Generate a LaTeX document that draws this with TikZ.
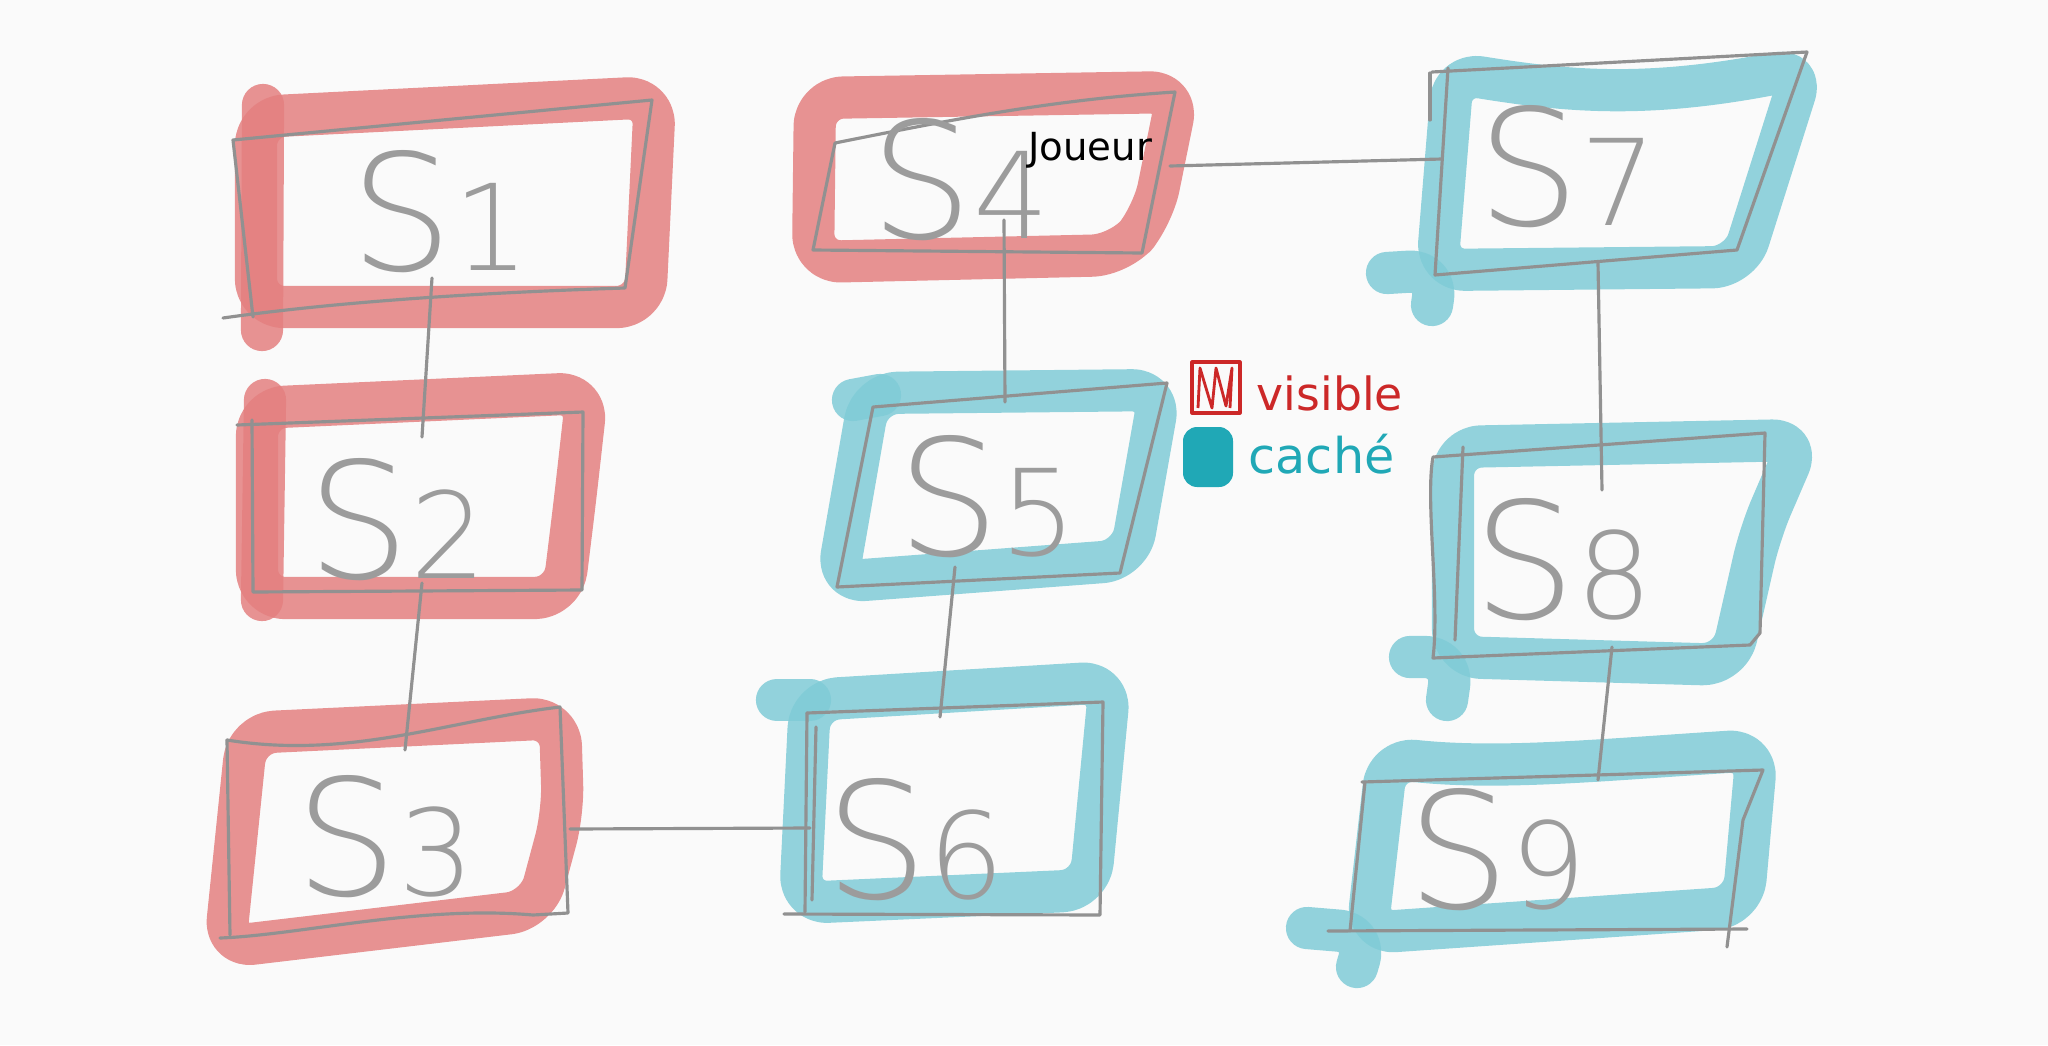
\documentclass[tikz,border=0pt]{standalone}
\usepackage{fontspec}
\setsansfont{DejaVu Sans}
\newfontfamily\handfont{DejaVu Sans ExtraLight}
\usepackage{xcolor}
\definecolor{bgpaper}{RGB}{250,250,250}
\definecolor{hlred}{RGB}{228,128,128}
\definecolor{hlteal}{RGB}{128,204,215}
\definecolor{inkred}{RGB}{204,40,40}
\definecolor{inkteal}{RGB}{32,168,182}
\definecolor{pencil}{RGB}{145,145,145}
\usetikzlibrary{positioning}

\newcommand{\stname}[1]{{\fontsize{46}{46}\selectfont S}{\fontsize{34}{34}\selectfont #1}}

\begin{document}
\begin{tikzpicture}[x=0.01cm, y=-0.01cm,
  redmark/.style={draw=hlred, line width=12pt, line cap=round, line join=round, rounded corners=8pt, opacity=0.85},
  tealmark/.style={draw=hlteal, line width=12pt, line cap=round, line join=round, rounded corners=8pt, opacity=0.85},
  sketch/.style={draw=pencil, line width=0.9pt, line join=round, line cap=round},
  link/.style={sketch},
  stlbl/.style={text=pencil!90, font=\handfont, inner sep=0pt}]

  \fill[bgpaper] (0,0) rectangle (2048,1045);
  \useasboundingbox (0,0) rectangle (2048,1045);

  % S1 -- visible
  \draw[redmark] (256,117) -- (655,97) -- (645,307) -- (256,307) -- cycle;
  \draw[redmark] (263,105) -- (262,330);
  \draw[sketch] (223,318) .. controls (350,300) and (500,292) .. (625,288) -- (652,100) -- (233,140) -- (253,317);
  \node[stlbl] (s1) at (440,212) {\stname{1}};

  % S2 -- visible
  \draw[redmark] (257,408) -- (587,393) -- (575,500) -- (563,598) -- (257,598) -- cycle;
  \draw[redmark] (265,400) -- (262,600);
  \draw[sketch] (237,425) -- (583,412) -- (582,590) -- (253,592) -- (252,420);
  \node[stlbl] (s2) at (397,520) {\stname{2}};

  % S3 -- visible
  \draw[redmark] (247,733) -- (560,718) -- (563,813) -- (537,910) -- (225,947) -- cycle;
  \draw[sketch] (227,740) .. controls (350,760) and (450,720) .. (560,707) -- (568,913) -- (533,915)
       .. controls (420,905) and (300,935) .. (220,938);
  \draw[sketch] (227,740) -- (230,935);
  \node[stlbl] (s3) at (385,837) {\stname{3}};

  % S4 -- visible, player
  \draw[redmark] (815,98) -- (1178,92) -- (1153,215) -- (1120,255) -- (813,262) -- cycle;
  \draw[sketch] (835,143) .. controls (950,120) and (1050,100) .. (1175,92) -- (1142,253) -- (813,250) -- (835,143);
  \node[stlbl] (s4) at (960,180) {\stname{4}};
  \node[font=\sffamily\fontsize{11}{11}\selectfont, text=black, inner sep=0pt] (player) at (1090,150) {Joueur};

  % S5 -- hidden
  \draw[tealmark] (870,393) -- (1160,390) -- (1130,560) -- (837,582) -- cycle;
  \draw[tealmark] (853,400) -- (880,395);
  \draw[sketch] (873,407) -- (1167,383) -- (1120,573) -- (837,587) -- cycle;
  \node[stlbl] (s5) at (987,497) {\stname{5}};

  % S6 -- hidden
  \draw[tealmark] (810,700) -- (1110,682) -- (1090,890) -- (800,903) -- cycle;
  \draw[tealmark] (777,700) -- (810,700);
  \draw[sketch] (807,713) -- (1103,702) -- (1100,915) -- (784,914);
  \draw[sketch] (807,713) -- (805,912);
  \draw[sketch] (816,727) -- (812,900);
  \node[stlbl] (s6) at (915,840) {\stname{6}};

  % S7 -- hidden
  \draw[tealmark] (1453,73) .. controls (1560,90) and (1640,100) .. (1803,68) -- (1740,267) -- (1437,270) -- cycle;
  \draw[tealmark] (1387,273) -- (1437,270) -- (1432,305);
  \draw[sketch] (1432,72) -- (1807,52) -- (1737,250) -- (1435,275) -- (1448,68);
  \draw[sketch] (1430,73) -- (1430,120);
  \node[stlbl] (s7) at (1567,167) {\stname{7}};

  % S8 -- hidden
  \draw[tealmark] (1453,447) -- (1800,440) -- (1760,533) -- (1730,665) -- (1453,657) -- cycle;
  \draw[tealmark] (1410,657) -- (1453,657) -- (1447,700);
  \draw[sketch] (1433,457) -- (1765,433) -- (1760,633) -- (1750,645) -- (1433,658)
       .. controls (1440,600) and (1425,500) .. (1433,457);
  \draw[sketch] (1463,447) -- (1455,640);
  \node[stlbl] (s8) at (1563,560) {\stname{8}};

  % S9 -- hidden
  \draw[tealmark] (1387,758) .. controls (1500,770) and (1600,760) .. (1757,750) -- (1743,907) -- (1367,933) -- cycle;
  \draw[tealmark] (1307,928) -- (1367,933) -- (1357,967);
  \draw[sketch] (1362,782) -- (1763,770) -- (1743,820) -- (1727,947);
  \draw[sketch] (1328,931) -- (1747,929);
  \draw[sketch] (1365,782) -- (1350,931);
  \node[stlbl] (s9) at (1497,850) {\stname{9}};

  % links between rooms
  \coordinate (s1bot) at (432,278);  \coordinate (s2top) at (422,437);
  \coordinate (s2bot) at (422,583);  \coordinate (s3top) at (405,750);
  \coordinate (s3east) at (570,829); \coordinate (s6west) at (810,828);
  \coordinate (s4bot) at (1004,220); \coordinate (s5top) at (1005,402);
  \coordinate (s5bot) at (955,567);  \coordinate (s6top) at (940,717);
  \coordinate (s4east) at (1170,166); \coordinate (s7west) at (1442,159);
  \coordinate (s7bot) at (1598,263); \coordinate (s8top) at (1602,490);
  \coordinate (s8bot) at (1612,647); \coordinate (s9top) at (1598,780);
  \draw[link] (s1bot) -- (s2top);
  \draw[link] (s2bot) -- (s3top);
  \draw[link] (s3east) -- (s6west);
  \draw[link] (s4bot) -- (s5top);
  \draw[link] (s5bot) -- (s6top);
  \draw[link] (s4east) -- (s7west);
  \draw[link] (s7bot) -- (s8top);
  \draw[link] (s8bot) -- (s9top);

  % legend
  \draw[inkred, line width=0.9pt, line join=round] (1192,362) rectangle (1240,413);
  \draw[inkred, line width=0.8pt, line join=round] (1198,408) -- (1200,368) -- (1212,408) -- (1216,368)
       -- (1226,406) -- (1232,368) -- (1230,408);
  \node[anchor=base west, text=inkred, font=\sffamily\fontsize{13}{13}\selectfont, inner sep=0pt] (visible) at (1256,410) {visible};
  \fill[inkteal, rounded corners=4pt] (1183,427) rectangle (1233,487);
  \node[anchor=base west, text=inkteal, font=\sffamily\fontsize{14}{14}\selectfont, inner sep=0pt] (hidden) at (1248,473) {caché};
\end{tikzpicture}
\end{document}
